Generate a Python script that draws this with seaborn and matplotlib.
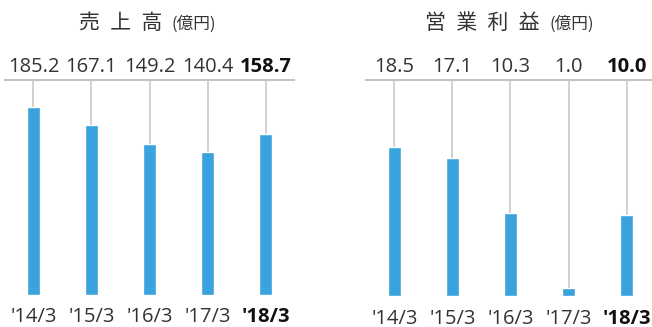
import matplotlib
matplotlib.use("Agg")
import matplotlib.pyplot as plt
import seaborn as sns
import pandas as pd

# Fiscal years and results (100 million yen)
periods = ["'14/3", "'15/3", "'16/3", "'17/3", "'18/3"]
net_sales = [185.2, 167.1, 149.2, 140.4, 158.7]
operating_income = [18.5, 17.1, 10.3, 1.0, 10.0]

sns.set_theme(style="white")
plt.rcParams["font.family"] = ["Open Sans", "Noto Sans CJK JP", "DejaVu Sans"]

W, H = 652, 327
fig = plt.figure(figsize=(W / 100, H / 100), dpi=100)
fig.patch.set_facecolor("white")

BAR = "#3aa2dc"
GRID = "#c4c4c4"
TXT = "#333333"


def panel(x0, x1, y_top, y_base, values, ymax, title, title_x):
    ax = fig.add_axes([x0 / W, (H - y_base) / H, (x1 - x0) / W, (y_base - y_top) / H])
    df = pd.DataFrame({"period": periods, "value": values})
    sns.barplot(data=df, x="period", y="value", color=BAR, width=0.224,
                saturation=1, ax=ax, zorder=3)
    ax.set_xlim(-0.49, 4.49)
    ax.set_ylim(0, ymax)
    ax.vlines(range(len(values)), values, ymax, color=GRID, lw=1.1, zorder=2)
    for s in ("left", "right", "bottom"):
        ax.spines[s].set_visible(False)
    ax.spines["top"].set_color(GRID)
    ax.spines["top"].set_linewidth(1.5)
    ax.set_yticks([])
    ax.set_xlabel("")
    ax.set_ylabel("")
    ax.tick_params(axis="x", length=0, pad=9, labelsize=14.5, labelcolor=TXT)
    for i, lab in enumerate(ax.get_xticklabels()):
        if i == len(values) - 1:
            lab.set_fontweight("bold")
            lab.set_color("#111111")
    for i, v in enumerate(values):
        last = i == len(values) - 1
        ax.annotate(f"{v:.1f}", (i, ymax), xytext=(0, 6), textcoords="offset points",
                    ha="center", va="baseline", fontsize=14.5,
                    fontweight="bold" if last else "normal",
                    color="#111111" if last else TXT)
    # titles placed relative to the figure
    fig.text(title_x / W, (H - 23) / H, title, ha="right", va="center",
             fontsize=15, color=TXT, family=["Noto Sans CJK JP"])
    fig.text(title_x / W + 0.014, (H - 24) / H, "(億円)", ha="left", va="center",
             fontsize=12, color=TXT, family=["Noto Sans CJK JP"])
    return ax


panel(5, 294, 80, 295, net_sales, 211.8, "売\u2002上\u2002高", 162)
panel(366, 655, 80, 296, operating_income, 26.8, "営\u2002業\u2002利\u2002益", 540)

fig.savefig("out.png", dpi=100, facecolor="white")
